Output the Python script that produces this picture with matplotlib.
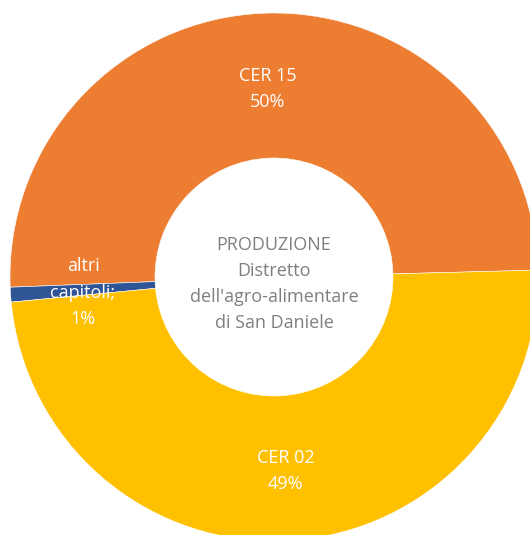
import numpy as np
import matplotlib
matplotlib.use('Agg')
from matplotlib import pyplot as plt

# chart data
labels = ['CER 15', 'altri\ncapitoli;', 'CER 02']
values = [50.2, 0.9, 48.9]
pct_labels = ['50%', '1%', '49%']
colors = ['#ED7D31', '#2F5597', '#FFC000']
center_text = 'PRODUZIONE\nDistretto\ndell\'agro-alimentare\ndi San Daniele'

plt.rcParams['font.family'] = ['Open Sans', 'DejaVu Sans']

W, H = 530, 535
cx, cy, R = 274, 277, 264   # pie centre / radius in pixels

fig = plt.figure(figsize=(W / 100, H / 100), dpi=100)
ax = fig.add_axes([0, 0, 1, 1])

wedges, _ = ax.pie(values, colors=colors, startangle=1.5, counterclock=True,
                   radius=1, wedgeprops=dict(width=1 - 119 / R, edgecolor='white', linewidth=0.4))

# labels placed along each wedge's middle angle
for w, lab, pct in zip(wedges, labels, pct_labels):
    ang = np.deg2rad((w.theta1 + w.theta2) / 2)
    r = 0.725
    ax.text(r * np.cos(ang), r * np.sin(ang) - 3 / R, lab + '\n' + pct, ha='center', va='center',
            color='white', fontsize=13, linespacing=1.6)

ax.text(0, -7 / R, center_text, ha='center', va='center', color='#7F7F7F',
        fontsize=13, linespacing=1.58)

ax.set_aspect('auto')
ax.set_xlim(-cx / R, (W - cx) / R)
ax.set_ylim(-(H - cy) / R, cy / R)
ax.axis('off')

fig.savefig('out.png', dpi=100, facecolor='white')
